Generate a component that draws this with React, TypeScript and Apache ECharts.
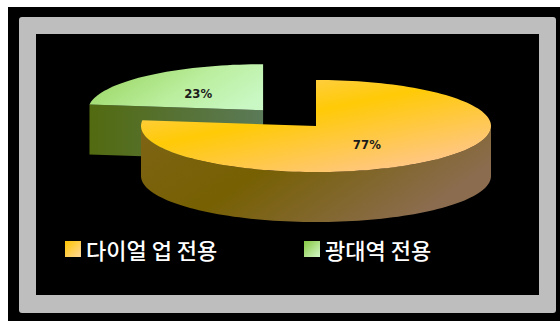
import React, { useEffect, useRef } from 'react';
import * as echarts from 'echarts';

const categories = ['다이얼 업 전용', '광대역 전용'];
const values = [77, 23];
const labelTexts = ['77%', '23%'];

const PIE = { cx: 316, cy: 126, r: 175, tilt: 0.263, depth: 50, startAngle: 90 };
const EXPLODE = [0, 80];
const LABEL_R = 0.5;
const LABEL_DX = -7;

const G: any = (echarts as any).graphic;
const lin = (x0: number, y0: number, x1: number, y1: number, stops: [number, string][]) =>
  new G.LinearGradient(x0, y0, x1, y1, stops.map(([o, c]) => ({ offset: o, color: c })));

const palettes = [
  {
    top: lin(0, 0, 0.8, 1, [[0, '#FFD37C'], [0.45, '#FFCA06'], [1, '#FFC690']]),
    side: lin(0, 0, 1, 0.4, [[0, '#7E6416'], [0.45, '#766002'], [1, '#8B6C4E']]),
    icon: lin(0, 0, 1, 1, [[0, '#FFC400'], [1, '#FFD89A']]),
  },
  {
    top: lin(0, 0.3, 1, 0.7, [[0, '#9AD662'], [0.55, '#BBEE9E'], [1, '#CAF8C4']]),
    side: lin(0, 0, 1, 0, [[0, '#526A10'], [1, '#5B7A58']]),
    icon: lin(0, 0, 1, 1, [[0, '#86C840'], [1, '#D4F8CA']]),
  },
];

const total = values.reduce((a, b) => a + b, 0);
const starts = values.map((_, i) => values.slice(0, i).reduce((a, b) => a + b, 0));

function renderSlice(idx: number) {
  const pal = palettes[idx];
  return (params: any, api: any) => {
    const v = api.value(0), before = api.value(1), tot = api.value(2);
    const s = PIE.startAngle - (360 * before) / tot;
    const e = s - (360 * v) / tot;
    const mid = (((s + e) / 2) * Math.PI) / 180;
    const d = EXPLODE[idx];
    const R = PIE.r, k = PIE.tilt, D = PIE.depth;
    const cx = PIE.cx + d * Math.cos(mid);
    const cy = PIE.cy - k * d * Math.sin(mid);
    const pt = (deg: number, dy = 0) => {
      const a = (deg * Math.PI) / 180;
      return [cx + R * Math.cos(a), cy - k * R * Math.sin(a) + dy];
    };
    const arc = (a0: number, a1: number, dy = 0) => {
      const n = Math.max(2, Math.ceil(Math.abs(a1 - a0) / 2));
      const out: number[][] = [];
      for (let j = 0; j <= n; j++) out.push(pt(a0 + ((a1 - a0) * j) / n, dy));
      return out;
    };
    const children: any[] = [];
    const radial = (deg: number) => {
      children.push({
        type: 'polygon',
        shape: { points: [[cx, cy], pt(deg), pt(deg, D), [cx, cy + D]] },
        style: { fill: pal.side },
      });
    };
    const cs = Math.cos((s * Math.PI) / 180), ce = Math.cos((e * Math.PI) / 180);
    if (cs < -1e-6) radial(s);
    if (ce > 1e-6) radial(e);
    for (const n of [-1, 0, 1]) {
      const lo = Math.max(e, -180 + 360 * n), hi = Math.min(s, 360 * n);
      if (hi > lo) {
        children.push({
          type: 'polygon',
          shape: { points: arc(lo, hi).concat(arc(hi, lo, D)) },
          style: { fill: pal.side },
        });
      }
    }
    children.push({
      type: 'polygon',
      shape: { points: [[cx, cy], ...arc(s, e)] },
      style: { fill: pal.top },
    });
    children.push({
      type: 'text',
      style: {
        text: labelTexts[idx],
        x: cx + LABEL_R * R * Math.cos(mid) + LABEL_DX,
        y: cy - k * LABEL_R * R * Math.sin(mid) + 1,
        align: 'center',
        verticalAlign: 'middle',
        fill: '#1b1b1b',
        font: "bold 13px 'DejaVu Sans Condensed', 'Liberation Sans Narrow', sans-serif",
      },
    });
    return { type: 'group', children };
  };
}

export default function App() {
  const ref = useRef<HTMLDivElement>(null);
  useEffect(() => {
    if (!ref.current) return;
    const chart = echarts.init(ref.current, null, { renderer: 'svg' });
    const legendText = {
      color: '#ffffff',
      fontSize: 22,
      fontWeight: 500,
      fontFamily: "'Noto Sans CJK KR', sans-serif",
    };
    chart.setOption({
      animation: false,
      backgroundColor: '#ffffff',
      graphic: [
        { type: 'rect', z: 0, shape: { x: 8, y: 7, width: 552, height: 314 }, style: { fill: '#000000' } },
        { type: 'rect', z: 0, shape: { x: 19, y: 17, width: 537, height: 296, r: 3 }, style: { fill: '#BEBEBE' } },
        { type: 'rect', z: 0, shape: { x: 36, y: 34, width: 503, height: 261 }, style: { fill: '#000000' } },
      ],
      legend: [
        {
          data: [{ name: categories[0], icon: 'rect', itemStyle: { color: palettes[0].icon } }],
          left: 65,
          top: 238,
          padding: 0,
          itemWidth: 16,
          itemHeight: 16,
          selectedMode: false,
          textStyle: legendText,
        },
        {
          data: [{ name: categories[1], icon: 'rect', itemStyle: { color: palettes[1].icon } }],
          left: 304,
          top: 238,
          padding: 0,
          itemWidth: 16,
          itemHeight: 16,
          selectedMode: false,
          textStyle: legendText,
        },
      ],
      series: values.map((v, i) => ({
        type: 'custom',
        name: categories[i],
        coordinateSystem: 'none',
        z: i === 0 ? 4 : 3,
        itemStyle: { color: palettes[i].icon },
        renderItem: renderSlice(i),
        data: [[v, starts[i], total]],
      })),
    });
    return () => chart.dispose();
  }, []);
  return (
    <div
      ref={ref}
      style={{ position: 'absolute', left: 0, top: 0, width: 560, height: 321 }}
    />
  );
}
